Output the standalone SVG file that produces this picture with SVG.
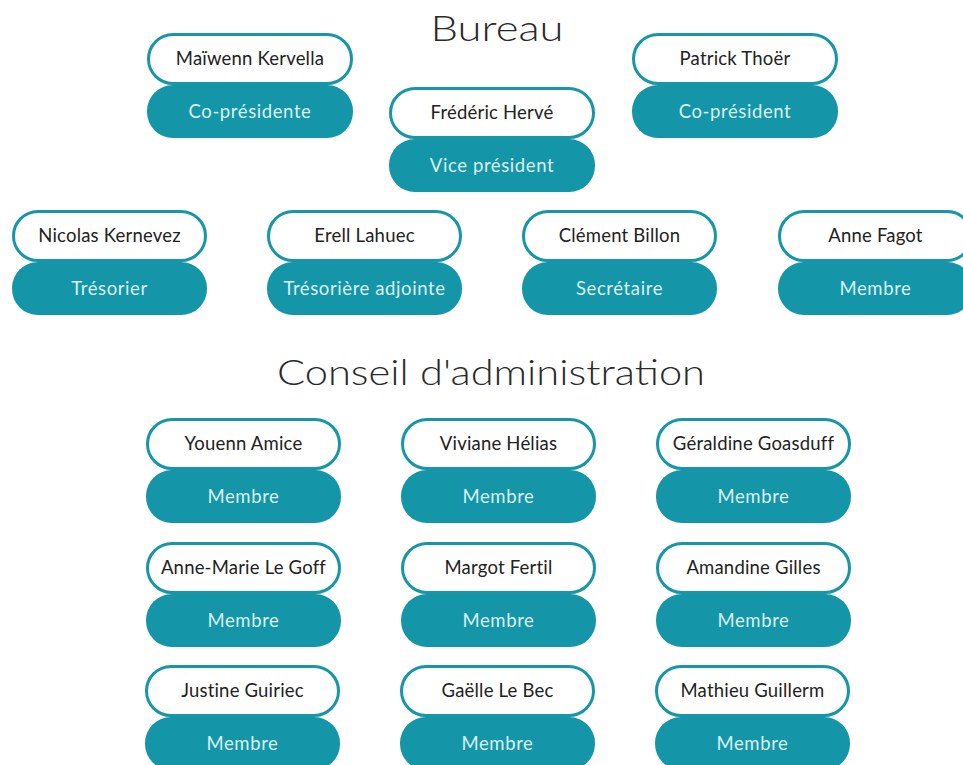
<svg xmlns="http://www.w3.org/2000/svg" width="963" height="765" viewBox="0 0 963 765">
<style>
.nm{fill:#ffffff;stroke:#1796a8;stroke-width:3}
.rl{fill:#1596a8}
.tn{font-family:Lato,"Liberation Sans",sans-serif;font-size:18.5px;fill:#222;text-anchor:middle;letter-spacing:0.2px}
.tr{font-family:Lato,"Liberation Sans",sans-serif;font-size:18.5px;fill:#d9f1f4;text-anchor:middle;letter-spacing:0.6px}
.ti{font-family:Lato,"Open Sans",sans-serif;font-weight:300;fill:#2a2a2a;text-anchor:middle}
</style>
<rect width="963" height="765" fill="#ffffff"/>
<g id="titles">
<text class="ti" x="497" y="41" font-size="36" textLength="133" lengthAdjust="spacingAndGlyphs">Bureau</text>
<text class="ti" x="491" y="385" font-size="36" textLength="428" lengthAdjust="spacingAndGlyphs">Conseil d'administration</text>
</g>
<g id="connectors"></g>
<g id="maiwenn"><rect class="rl" x="147" y="85" width="206" height="53" rx="26"/><rect class="nm" x="148.5" y="34.5" width="203" height="49" rx="24.5"/><text class="tn" x="250" y="65">Maïwenn Kervella</text><text class="tr" x="250" y="118">Co-présidente</text></g>
<g id="frederic"><rect class="rl" x="389" y="139" width="206" height="53" rx="26"/><rect class="nm" x="390.5" y="88.5" width="203" height="49" rx="24.5"/><text class="tn" x="492" y="119">Frédéric Hervé</text><text class="tr" x="492" y="172">Vice président</text></g>
<g id="patrick"><rect class="rl" x="632" y="85" width="206" height="53" rx="26"/><rect class="nm" x="633.5" y="34.5" width="203" height="49" rx="24.5"/><text class="tn" x="735" y="65">Patrick Thoër</text><text class="tr" x="735" y="118">Co-président</text></g>
<g id="nicolas"><rect class="rl" x="12" y="262" width="195" height="53" rx="26"/><rect class="nm" x="13.5" y="211.5" width="192" height="49" rx="24.5"/><text class="tn" x="109.5" y="242">Nicolas Kernevez</text><text class="tr" x="109.5" y="295">Trésorier</text></g>
<g id="erell"><rect class="rl" x="267" y="262" width="195" height="53" rx="26"/><rect class="nm" x="268.5" y="211.5" width="192" height="49" rx="24.5"/><text class="tn" x="364.5" y="242">Erell Lahuec</text><text class="tr" x="364.5" y="295">Trésorière adjointe</text></g>
<g id="clement"><rect class="rl" x="522" y="262" width="195" height="53" rx="26"/><rect class="nm" x="523.5" y="211.5" width="192" height="49" rx="24.5"/><text class="tn" x="619.5" y="242">Clément Billon</text><text class="tr" x="619.5" y="295">Secrétaire</text></g>
<g id="anne"><rect class="rl" x="778" y="262" width="195" height="53" rx="26"/><rect class="nm" x="779.5" y="211.5" width="192" height="49" rx="24.5"/><text class="tn" x="875.5" y="242">Anne Fagot</text><text class="tr" x="875.5" y="295">Membre</text></g>
<g id="youenn"><rect class="rl" x="146" y="470" width="195" height="53" rx="26"/><rect class="nm" x="147.5" y="419.5" width="192" height="49" rx="24.5"/><text class="tn" x="243.5" y="450">Youenn Amice</text><text class="tr" x="243.5" y="503">Membre</text></g>
<g id="viviane"><rect class="rl" x="401" y="470" width="195" height="53" rx="26"/><rect class="nm" x="402.5" y="419.5" width="192" height="49" rx="24.5"/><text class="tn" x="498.5" y="450">Viviane Hélias</text><text class="tr" x="498.5" y="503">Membre</text></g>
<g id="geraldine"><rect class="rl" x="656" y="470" width="195" height="53" rx="26"/><rect class="nm" x="657.5" y="419.5" width="192" height="49" rx="24.5"/><text class="tn" x="753.5" y="450">Géraldine Goasduff</text><text class="tr" x="753.5" y="503">Membre</text></g>
<g id="annemarie"><rect class="rl" x="146" y="594" width="195" height="53" rx="26"/><rect class="nm" x="147.5" y="543.5" width="192" height="49" rx="24.5"/><text class="tn" x="243.5" y="574">Anne-Marie Le Goff</text><text class="tr" x="243.5" y="627">Membre</text></g>
<g id="margot"><rect class="rl" x="401" y="594" width="195" height="53" rx="26"/><rect class="nm" x="402.5" y="543.5" width="192" height="49" rx="24.5"/><text class="tn" x="498.5" y="574">Margot Fertil</text><text class="tr" x="498.5" y="627">Membre</text></g>
<g id="amandine"><rect class="rl" x="656" y="594" width="195" height="53" rx="26"/><rect class="nm" x="657.5" y="543.5" width="192" height="49" rx="24.5"/><text class="tn" x="753.5" y="574">Amandine Gilles</text><text class="tr" x="753.5" y="627">Membre</text></g>
<g id="justine"><rect class="rl" x="145" y="717" width="195" height="53" rx="26"/><rect class="nm" x="146.5" y="666.5" width="192" height="49" rx="24.5"/><text class="tn" x="242.5" y="697">Justine Guiriec</text><text class="tr" x="242.5" y="750">Membre</text></g>
<g id="gaelle"><rect class="rl" x="400" y="717" width="195" height="53" rx="26"/><rect class="nm" x="401.5" y="666.5" width="192" height="49" rx="24.5"/><text class="tn" x="497.5" y="697">Gaëlle Le Bec</text><text class="tr" x="497.5" y="750">Membre</text></g>
<g id="mathieu"><rect class="rl" x="655" y="717" width="195" height="53" rx="26"/><rect class="nm" x="656.5" y="666.5" width="192" height="49" rx="24.5"/><text class="tn" x="752.5" y="697">Mathieu Guillerm</text><text class="tr" x="752.5" y="750">Membre</text></g>
</svg>
